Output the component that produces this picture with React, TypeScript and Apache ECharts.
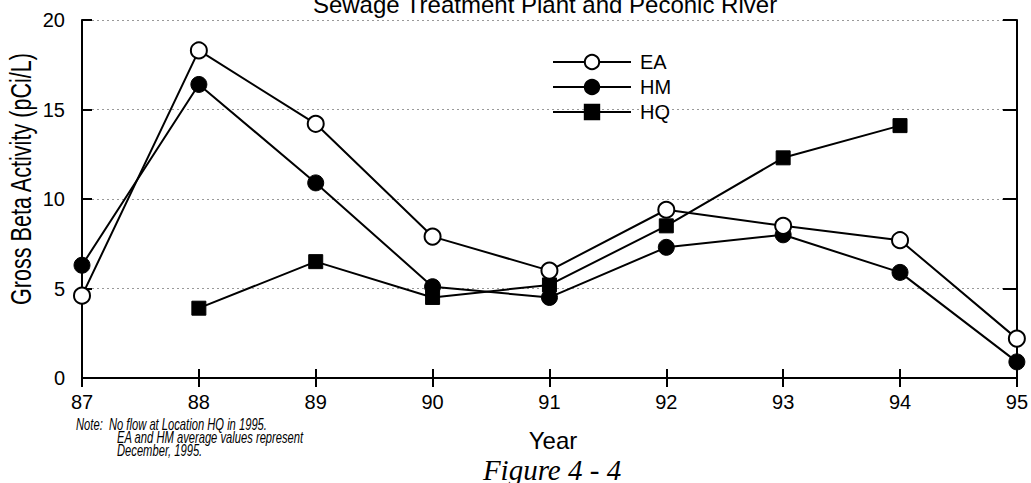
import React, { useEffect, useRef } from "react";
import * as echarts from "echarts";

const years = [87, 88, 89, 90, 91, 92, 93, 94, 95];
const eaValues = [4.6, 18.3, 14.2, 7.9, 6.0, 9.4, 8.5, 7.7, 2.2];
const hmValues = [6.3, 16.4, 10.9, 5.1, 4.5, 7.3, 8.0, 5.9, 0.9];
const hqValues: (number | null)[] = [null, 3.9, 6.5, 4.5, 5.2, 8.5, 12.3, 14.1, null];
const yTicks = [0, 5, 10, 15, 20];

const FONT = "'Liberation Sans', Arial, sans-serif";

export default function App() {
  const ref = useRef<HTMLDivElement>(null);
  useEffect(() => {
    if (!ref.current) return;
    const chart = echarts.init(ref.current, undefined, { renderer: "svg" });
    const pairs = (vals: (number | null)[]) =>
      years.map((y, i) => [y, vals[i]]).filter((p) => p[1] !== null);
    const lineStyle = { color: "#000", width: 2 };
    chart.setOption({
      animation: false,
      backgroundColor: "#fff",
      textStyle: { fontFamily: FONT, color: "#000" },
      grid: { left: 82, right: 14, top: 20, bottom: 105 },
      legend: {
        orient: "vertical",
        left: 552,
        top: 52,
        padding: 0,
        itemWidth: 78,
        itemHeight: 18,
        itemGap: 5,
        textStyle: { fontFamily: FONT, fontSize: 20, color: "#000", padding: [0, 0, 0, 4] },
        data: ["EA", "HM", "HQ"],
      },
      xAxis: [
        {
          type: "value",
          min: 87,
          max: 95,
          interval: 1,
          axisLine: { lineStyle: { color: "#000", width: 2 } },
          axisTick: { inside: true, length: 9, lineStyle: { color: "#000", width: 2 } },
          axisLabel: { fontFamily: FONT, fontSize: 20, color: "#000", margin: 14 },
          splitLine: { show: false },
        },
        {
          type: "value",
          position: "top",
          min: 87,
          max: 95,
          interval: 1,
          axisLine: { lineStyle: { color: "#000", width: 2 } },
          axisTick: { inside: true, length: 9, lineStyle: { color: "#000", width: 2 } },
          axisLabel: { show: false },
          splitLine: { show: false },
        },
      ],
      yAxis: [
        {
          type: "value",
          min: yTicks[0],
          max: yTicks[yTicks.length - 1],
          interval: 5,
          axisLine: { show: true, lineStyle: { color: "#000", width: 2 } },
          axisTick: { show: true, inside: true, length: 10, lineStyle: { color: "#000", width: 2 } },
          axisLabel: { fontFamily: FONT, fontSize: 20, color: "#000", margin: 17 },
          splitLine: { show: true, lineStyle: { color: "#999", width: 1, type: [2, 3] } },
        },
        {
          type: "value",
          position: "right",
          min: 0,
          max: 20,
          interval: 5,
          axisLine: { show: true, lineStyle: { color: "#000", width: 2 } },
          axisTick: { show: true, inside: true, length: 14, lineStyle: { color: "#000", width: 2 } },
          axisLabel: { show: false },
          splitLine: { show: false },
        },
      ],
      series: [
        {
          name: "EA",
          type: "line",
          data: pairs(eaValues),
          symbol: "circle",
          symbolSize: 16,
          lineStyle,
          itemStyle: { color: "#fff", borderColor: "#000", borderWidth: 2 },
          z: 3,
        },
        {
          name: "HM",
          type: "line",
          data: pairs(hmValues),
          symbol: "circle",
          symbolSize: 16,
          lineStyle,
          itemStyle: { color: "#000", borderColor: "#000", borderWidth: 1 },
          z: 2,
        },
        {
          name: "HQ",
          type: "line",
          data: pairs(hqValues),
          symbol: "rect",
          symbolSize: 14,
          lineStyle,
          itemStyle: { color: "#000", borderColor: "#000", borderWidth: 1 },
          z: 2,
        },
      ],
      graphic: [
        {
          type: "text",
          x: 545,
          y: -8,
          style: {
            text: "Sewage Treatment Plant and Peconic River",
            fontFamily: FONT,
            fontSize: 24,
            fill: "#000",
            textAlign: "center",
          },
        },
        {
          type: "text",
          x: 21,
          y: 179,
          rotation: Math.PI / 2,
          scaleX: 0.72,
          style: {
            text: "Gross Beta Activity (pCi/L)",
            fontFamily: FONT,
            fontSize: 30,
            fill: "#000",
            textAlign: "center",
            textVerticalAlign: "middle",
          },
        },
        {
          type: "text",
          x: 553,
          y: 440,
          style: {
            text: "Year",
            fontFamily: FONT,
            fontSize: 24,
            fill: "#000",
            textAlign: "center",
            textVerticalAlign: "middle",
          },
        },
        {
          type: "text",
          x: 552,
          y: 470,
          style: {
            text: "Figure 4 - 4",
            fontFamily: "'Liberation Serif', 'DejaVu Serif', serif",
            fontStyle: "italic",
            fontSize: 29,
            fill: "#000",
            textAlign: "center",
            textVerticalAlign: "middle",
          },
        },
        {
          type: "text",
          x: 76,
          y: 424,
          scaleX: 0.7,
          style: {
            text: "Note:  No flow at Location HQ in 1995.",
            fontFamily: FONT,
            fontStyle: "italic",
            fontSize: 16,
            fill: "#000",
            textVerticalAlign: "middle",
          },
        },
        {
          type: "text",
          x: 117,
          y: 437,
          scaleX: 0.7,
          style: {
            text: "EA and HM average values represent",
            fontFamily: FONT,
            fontStyle: "italic",
            fontSize: 16,
            fill: "#000",
            textVerticalAlign: "middle",
          },
        },
        {
          type: "text",
          x: 117,
          y: 450,
          scaleX: 0.7,
          style: {
            text: "December, 1995.",
            fontFamily: FONT,
            fontStyle: "italic",
            fontSize: 16,
            fill: "#000",
            textVerticalAlign: "middle",
          },
        },
      ],
    });
    return () => chart.dispose();
  }, []);
  return <div ref={ref} style={{ width: 1031, height: 483, position: "absolute", left: 0, top: 0 }} />;
}
